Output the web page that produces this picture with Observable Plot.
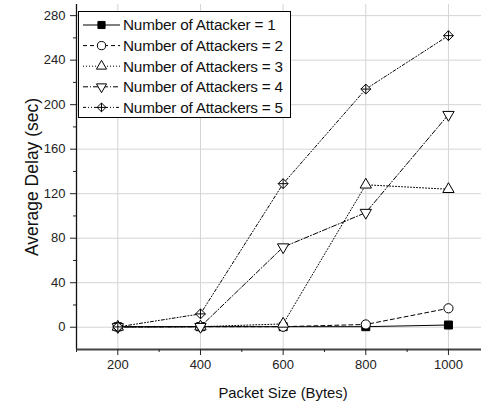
<!DOCTYPE html>
<html><head><meta charset="utf-8">
<script src="https://cdn.jsdelivr.net/npm/d3@7"></script>
<script src="https://cdn.jsdelivr.net/npm/@observablehq/plot@0.6"></script>
<style>html,body{margin:0;padding:0;background:#fff;overflow:hidden}</style>
</head><body><div id="chart"></div>
<script>
const packetSizes = [200, 400, 600, 800, 1000];
const attackers1 = [0.4, 0.5, 0.5, 0.5, 2];
const attackers2 = [0.3, 0.5, 0.5, 2.5, 17];
const attackers3 = [0.3, 0.5, 3, 128, 124];
const attackers4 = [0.3, 0.5, 72, 103, 191];
const attackers5 = [0.3, 12, 129, 214, 262];
const seriesNames = ["Number of Attacker = 1", "Number of Attackers = 2", "Number of Attackers = 3", "Number of Attackers = 4", "Number of Attackers = 5"];
const seriesValues = [attackers1, attackers2, attackers3, attackers4, attackers5];
const yTicks = [0, 40, 80, 120, 160, 200, 240, 280];
const yMinorTicks = [20, 60, 100, 140, 180, 220, 260];
const xTicks = [200, 400, 600, 800, 1000];
const xMinorTicks = [100, 300, 500, 700, 900];
const xTitle = "Packet Size (Bytes)";
const yTitle = "Average Delay (sec)";

const sqrt3 = Math.sqrt(3);
const downTriangle = {
  draw(ctx, size) {
    const y = -Math.sqrt(size / (sqrt3 * 3));
    ctx.moveTo(0, -y * 2);
    ctx.lineTo(-sqrt3 * y, y);
    ctx.lineTo(sqrt3 * y, y);
    ctx.closePath();
  }
};
const crossDiamond = {
  draw(ctx, size) {
    const h = Math.sqrt(size) * 0.62;
    ctx.moveTo(0, -h); ctx.lineTo(h, 0); ctx.lineTo(0, h); ctx.lineTo(-h, 0); ctx.closePath();
    ctx.moveTo(0, -h); ctx.lineTo(0, h);
    ctx.moveTo(-h, 0); ctx.lineTo(h, 0);
  }
};
const styles = [
  {dash: null, symbol: d3.symbolSquare, fill: "#000", r: 4.5},
  {dash: "4,3", symbol: d3.symbolCircle, fill: "#fff", r: 4.6},
  {dash: "1,2", symbol: d3.symbolTriangle, fill: "#fff", r: 4.2},
  {dash: "5,2,1,2", symbol: downTriangle, fill: "#fff", r: 4.2},
  {dash: "3,2,1,2,1,2", symbol: crossDiamond, fill: "#fff", r: 4.5}
];

const data = seriesNames.flatMap((name, i) => packetSizes.map((x, j) => ({series: name, i, x, y: seriesValues[i][j]})));

const marks = [
  Plot.ruleX(xTicks, {stroke: "#d4d4d4", strokeWidth: 1}),
  Plot.ruleY(yTicks, {stroke: "#d4d4d4", strokeWidth: 1}),
  Plot.ruleX([100], {stroke: "#111", strokeWidth: 1.3}),
  Plot.ruleY([-20], {stroke: "#444", strokeWidth: 2}),
  Plot.axisY(yTicks, {tickSize: 6, tickPadding: 5, label: null, fontSize: 13, color: "#222"}),
  Plot.axisY(yMinorTicks, {tickSize: 3, text: null, label: null, color: "#222"}),
  Plot.axisX(xTicks, {tickSize: 6, tickPadding: 4, label: null, fontSize: 13, color: "#222", tickFormat: d3.format("d")}),
  Plot.axisX(xMinorTicks, {tickSize: 3, text: null, label: null, color: "#222"}),
  Plot.text([xTitle], {frameAnchor: "bottom", dy: 48, dx: 4, fontSize: 14.8, fill: "#111"}),
  Plot.text([yTitle], {frameAnchor: "left", dx: -44, rotate: -90, textAnchor: "middle", fontSize: 17.5, fill: "#111"})
];
seriesNames.forEach((name, i) => {
  const d = data.filter(p => p.i === i);
  const s = styles[i];
  marks.push(Plot.line(d, {x: "x", y: "y", stroke: "#000", strokeWidth: 1, strokeDasharray: s.dash}));
});
seriesNames.forEach((name, i) => {
  const d = data.filter(p => p.i === i);
  const s = styles[i];
  marks.push(Plot.dot(d, {x: "x", y: "y", symbol: () => s.symbol, r: s.r, fill: s.fill, stroke: "#000", strokeWidth: 1}));
});

const plot = Plot.plot({
  width: 481,
  height: 404,
  marginLeft: 76,
  marginRight: 0,
  marginTop: 4,
  marginBottom: 55,
  x: {domain: [100, 1080], axis: null},
  y: {domain: [-20, 290], axis: null},
  symbol: {type: "identity"},
  style: {fontFamily: "'Liberation Sans', Arial, sans-serif", fontSize: "13px", background: "#fff", overflow: "visible"},
  marks
});
document.getElementById("chart").appendChild(plot);

// legend (drawn inside the SVG)
const svg = d3.select(plot);
const lg = svg.append("g").attr("font-family", "'Liberation Sans', Arial, sans-serif").attr("font-size", 15.3).attr("text-anchor", "start");
lg.append("rect").attr("x", 78.5).attr("y", 11.5).attr("width", 212).attr("height", 106)
  .attr("fill", "#fff").attr("stroke", "#000").attr("stroke-width", 1);
seriesNames.forEach((name, i) => {
  const s = styles[i];
  const cy = 25 + i * 20.6;
  lg.append("line").attr("x1", 83).attr("x2", 120).attr("y1", cy).attr("y2", cy)
    .attr("stroke", "#000").attr("stroke-width", 1).attr("stroke-dasharray", s.dash);
  lg.append("path").attr("transform", `translate(101.5,${cy})`)
    .attr("d", d3.symbol(s.symbol, Math.PI * s.r * s.r * 0.8)())
    .attr("fill", s.fill).attr("stroke", "#000").attr("stroke-width", 1);
  lg.append("text").attr("x", 123).attr("y", cy).attr("dy", "0.35em").attr("fill", "#111")
    .attr("text-anchor", "start").attr("letter-spacing", "-0.2").text(name);
});
</script>
</body></html>
